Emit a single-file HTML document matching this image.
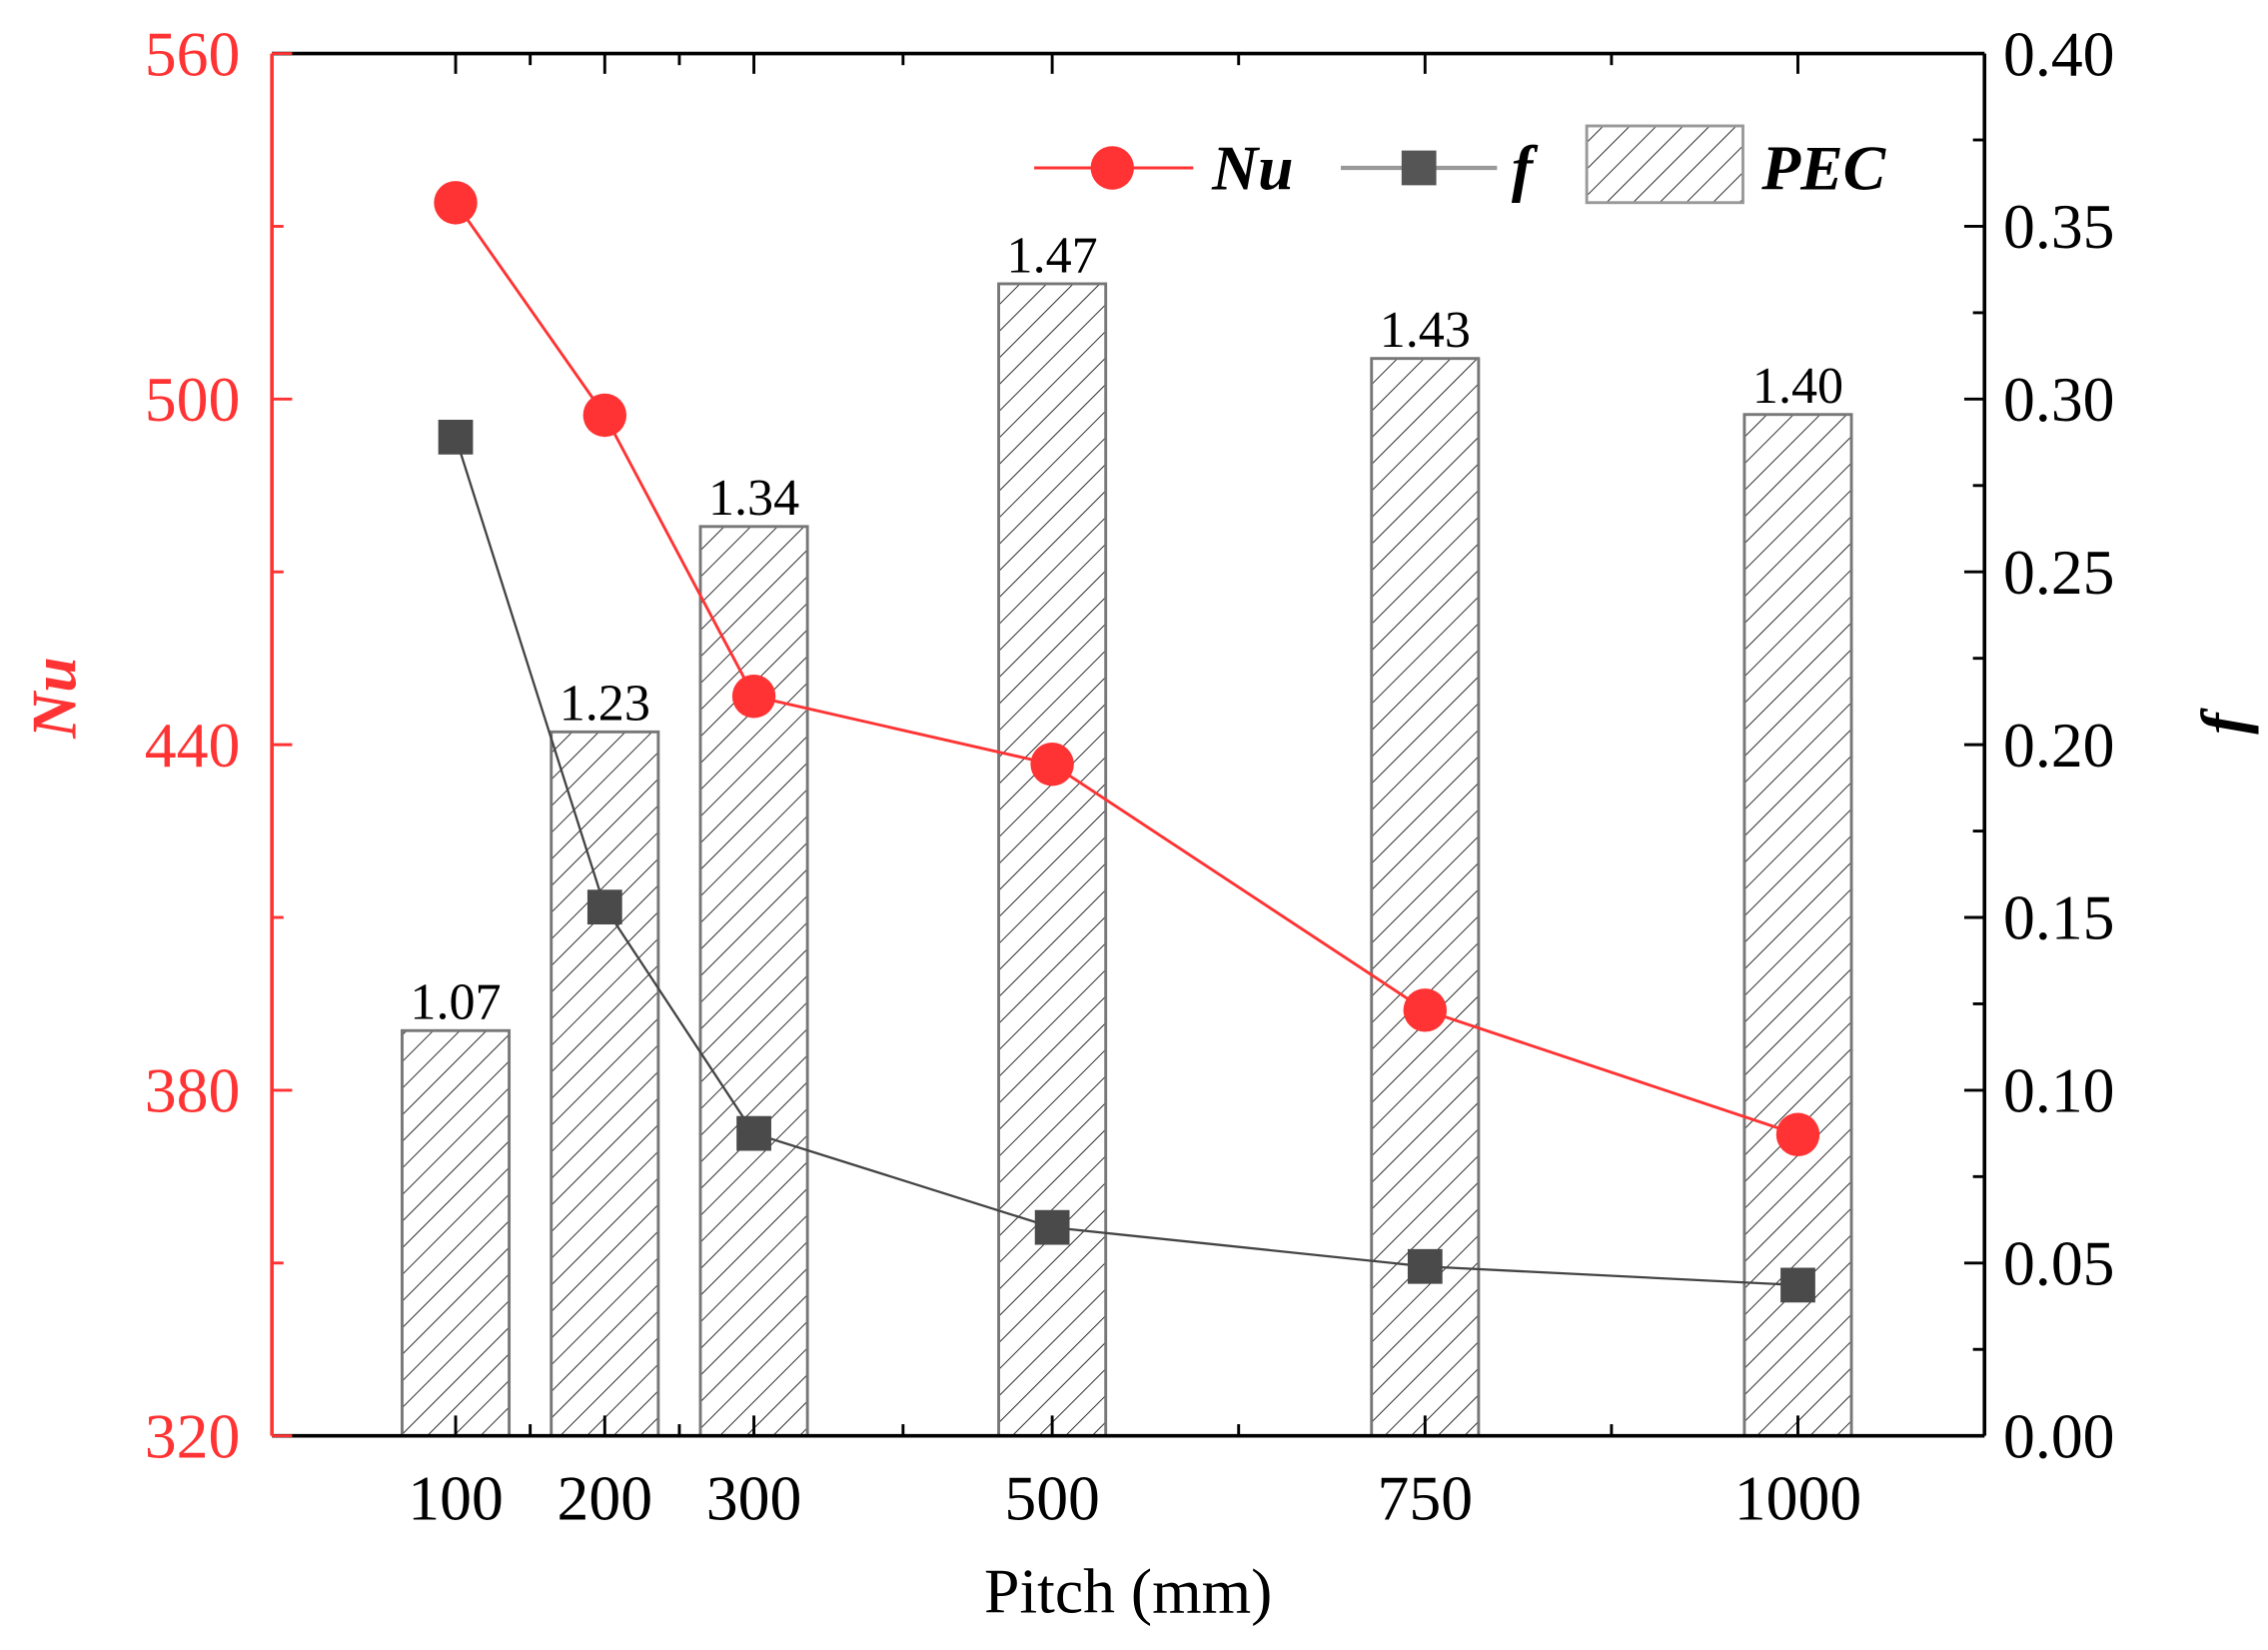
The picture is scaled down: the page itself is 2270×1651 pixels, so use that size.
<!DOCTYPE html>
<html><head><meta charset="utf-8"><style>
html,body{margin:0;padding:0;background:#fff;}
svg{display:block;}
text{font-family:"Liberation Serif",serif;}
</style></head><body>
<svg id="chart" width="2270" height="1651" viewBox="0 0 1568 1140" preserveAspectRatio="none" xmlns="http://www.w3.org/2000/svg">
<defs>
<pattern id="hatch" patternUnits="userSpaceOnUse" width="13" height="13" patternTransform="rotate(45)">
<rect width="13" height="13" fill="#fff"/>
<line x1="0" y1="0" x2="0" y2="13" stroke="#222" stroke-width="1.3"/>
</pattern>
</defs>
<g id="bars"></g>
<g id="lines"></g>
<g id="axes"></g>
<g id="legend">
<line x1="715" y1="116" x2="825" y2="116" stroke="#f33" stroke-width="2"/>
<circle cx="769" cy="116" r="15" fill="#f33"/>
<text x="838" y="131" font-size="44" font-weight="bold" font-style="italic">Nu</text>
<line x1="927" y1="116" x2="1035" y2="116" stroke="#999" stroke-width="3"/>
<rect x="969" y="104" width="24" height="24" fill="#555"/>
<text x="1045" y="131" font-size="44" font-weight="bold" font-style="italic">f</text>
<rect x="1097" y="87" width="108" height="53" fill="url(#hatch)" stroke="#999" stroke-width="2"/>
<text x="1218" y="131" font-size="44" font-weight="bold" font-style="italic">PEC</text>
</g>
</svg>
<script>
const categories = [100, 200, 300, 500, 750, 1000];
const nuValues = [534.1, 497.2, 448.4, 436.6, 393.9, 372.3];
const fValues = [0.289, 0.153, 0.0875, 0.0603, 0.049, 0.0436];
const pecValues = [1.07, 1.23, 1.34, 1.47, 1.43, 1.40];
const pecLabels = ["1.07", "1.23", "1.34", "1.47", "1.43", "1.40"];
const nuTicks = [320, 380, 440, 500, 560];
const fTicks = ["0.00","0.05","0.10","0.15","0.20","0.25","0.30","0.35","0.40"];
const xMinorTicks = [150, 250, 400, 625, 875];

const NS = "http://www.w3.org/2000/svg";
const PL = 188, PR = 1372, PT = 37, PB = 992;
const xs = p => 315 + (p - 100) * (1243 - 315) / 900;
const yNu = v => PB - (v - 320) / 240 * (PB - PT);
const yF = v => PB - v / 0.4 * (PB - PT);
const pecMin = 0.853, pecMax = 0.853 + (PB - PT) / 1290;
const yP = v => PB - (v - pecMin) / (pecMax - pecMin) * (PB - PT);
function mk(tag, attrs, parent, txt) {
  const e = document.createElementNS(NS, tag);
  for (const k in attrs) e.setAttribute(k, attrs[k]);
  if (txt !== undefined) e.textContent = txt;
  parent.appendChild(e);
  return e;
}
const barsG = document.getElementById('bars');
const linesG = document.getElementById('lines');
const axesG = document.getElementById('axes');
const bw = 74;
categories.forEach((c, i) => {
  const x = xs(c), y = yP(pecValues[i]);
  const r = mk('rect', {x: x - bw/2, y: y, width: bw, height: PB - y, fill: 'url(#hatch)', stroke: '#777', 'stroke-width': 2}, barsG);
  
  
  const t = mk('text', {x: x, y: y - 8, 'font-size': 36, 'text-anchor': 'middle'}, barsG, pecLabels[i]);
  
  
});
const fp = mk('polyline', {points: categories.map((c,i)=>xs(c)+','+yF(fValues[i])).join(' '), fill: 'none', stroke: '#444', 'stroke-width': 1.6}, linesG);


categories.forEach((c,i)=>{
  const m = mk('rect', {x: xs(c)-12, y: yF(fValues[i])-12, width: 24, height: 24, fill: '#4a4a4a'}, linesG);
  
  
});
const np = mk('polyline', {points: categories.map((c,i)=>xs(c)+','+yNu(nuValues[i])).join(' '), fill: 'none', stroke: '#f33', 'stroke-width': 2}, linesG);


categories.forEach((c,i)=>{
  const m = mk('circle', {cx: xs(c), cy: yNu(nuValues[i]), r: 15, fill: '#f33'}, linesG);
  
  
});
const axTop = mk('line', {x1: PL, y1: PT, x2: PR, y2: PT, stroke: '#000', 'stroke-width': 2.5}, axesG);


const axBot = mk('line', {x1: PL, y1: PB, x2: PR, y2: PB, stroke: '#000', 'stroke-width': 2.5}, axesG);


const axRight = mk('line', {x1: PR, y1: PT, x2: PR, y2: PB, stroke: '#000', 'stroke-width': 2.5}, axesG);


const axLeft = mk('line', {x1: PL, y1: PT, x2: PL, y2: PB, stroke: '#f33', 'stroke-width': 2.5}, axesG);


categories.forEach(c=>{
  const x = xs(c);
  mk('line', {x1:x,y1:PB,x2:x,y2:PB-14,stroke:'#000','stroke-width':2}, axesG);
  mk('line', {x1:x,y1:PT,x2:x,y2:PT+14,stroke:'#000','stroke-width':2}, axesG);
  const t = mk('text', {x:x, y:1050, 'font-size':44, 'text-anchor':'middle'}, axesG, String(c));
  
  
});
xMinorTicks.forEach(c=>{
  const x = xs(c);
  mk('line', {x1:x,y1:PB,x2:x,y2:PB-8,stroke:'#000','stroke-width':2}, axesG);
  mk('line', {x1:x,y1:PT,x2:x,y2:PT+8,stroke:'#000','stroke-width':2}, axesG);
});
nuTicks.forEach((v,i)=>{
  const y = yNu(v);
  mk('line', {x1:PL,y1:y,x2:PL+14,y2:y,stroke:'#f33','stroke-width':2}, axesG);
  if (i < nuTicks.length-1) { const ym = yNu(v+30); mk('line', {x1:PL,y1:ym,x2:PL+8,y2:ym,stroke:'#f33','stroke-width':2}, axesG); }
  const t = mk('text', {x:166, y:y+15, 'font-size':44, 'text-anchor':'end', fill:'#f33'}, axesG, String(v));
  
  
});
fTicks.forEach((s,i)=>{
  const v = parseFloat(s), y = yF(v);
  mk('line', {x1:PR,y1:y,x2:PR-14,y2:y,stroke:'#000','stroke-width':2}, axesG);
  if (i < fTicks.length-1) { const ym = yF(v+0.025); mk('line', {x1:PR,y1:ym,x2:PR-8,y2:ym,stroke:'#000','stroke-width':2}, axesG); }
  const t = mk('text', {x:1385, y:y+15, 'font-size':44}, axesG, s);
  
  
});
const xt = mk('text', {x:780, y:1114, 'font-size':44, 'text-anchor':'middle'}, axesG, 'Pitch (mm)');


const yl = mk('text', {x:0, y:0, 'font-size':44, 'font-weight':'bold', 'font-style':'italic', fill:'#f33', 'text-anchor':'middle', transform:'translate(52,482) rotate(-90)'}, axesG, 'Nu');


const yr = mk('text', {x:0, y:0, 'font-size':44, 'font-weight':'bold', 'font-style':'italic', 'text-anchor':'middle', transform:'translate(1552,500) rotate(-90)'}, axesG, 'f');


</script>
</body></html>
